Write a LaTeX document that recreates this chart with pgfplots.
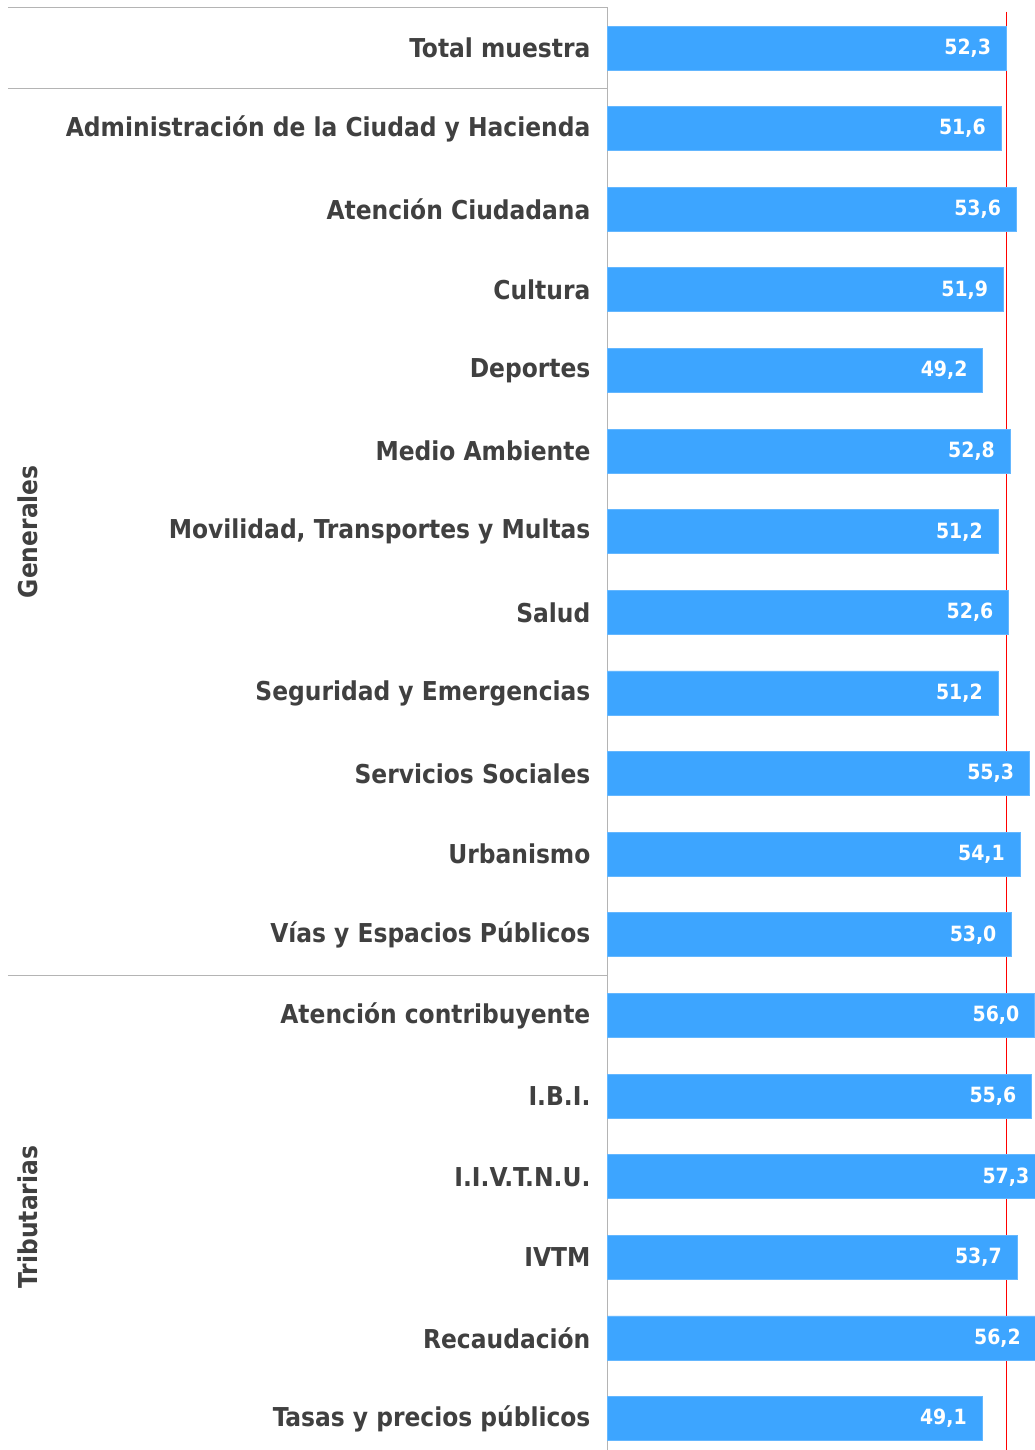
\documentclass[border=0pt]{standalone}
\usepackage{fontspec}
\setmainfont{DejaVu Sans Condensed}
\usepackage{pgfplots}
\usepackage{pgfplotstable}
\pgfplotsset{compat=1.18}
\definecolor{barblue}{HTML}{3DA5FF}
\definecolor{txtgray}{HTML}{404040}
\definecolor{sepgray}{HTML}{B4B4B4}
\pgfplotstableread{
y v lab
0 52.3 52,3
1 51.6 51,6
2 53.6 53,6
3 51.9 51,9
4 49.2 49,2
5 52.8 52,8
6 51.2 51,2
7 52.6 52,6
8 51.2 51,2
9 55.3 55,3
10 54.1 54,1
11 53.0 53,0
12 56.0 56,0
13 55.6 55,6
14 57.3 57,3
15 53.7 53,7
16 56.2 56,2
17 49.1 49,1
}\datatable
\begin{document}
\begin{tikzpicture}
\begin{axis}[
  scale only axis,
  clip=false,
  width=213.5pt, height=721.4pt,
  xmin=0, xmax=56,
  ymin=-0.5, ymax=17.39,
  y dir=reverse,
  axis x line=none,
  axis y line*=left,
  y axis line style={draw=sepgray, line width=0.6pt, -},
  xtick=\empty,
  ytick={0,...,17},
  major tick length=0pt,
  yticklabels={Total muestra,Administración de la Ciudad y Hacienda,Atención Ciudadana,Cultura,Deportes,Medio Ambiente,{Movilidad, Transportes y Multas},Salud,Seguridad y Emergencias,Servicios Sociales,Urbanismo,Vías y Espacios Públicos,Atención contribuyente,I.B.I.,I.I.V.T.N.U.,IVTM,Recaudación,Tasas y precios públicos},
  yticklabel style={font=\fontsize{13}{15}\selectfont\bfseries, text=txtgray, anchor=east, inner sep=0pt, xshift=-8.5pt},
]
\addplot[red, line width=0.6pt] coordinates {(52.3,-0.45) (52.3,17.39)};
\addplot[xbar, bar width=22pt, bar shift=0pt, fill=barblue, draw=barblue!80!white, line width=0.4pt,
  nodes near coords, point meta=explicit symbolic,
  nodes near coords style={anchor=east, inner sep=0pt, xshift=-7.5pt, text=white, font=\fontsize{10.5}{12}\selectfont\bfseries}]
  table[x=v, y=y, meta=lab] {\datatable};
\draw[sepgray, line width=0.6pt] ([xshift=-300pt]axis cs:0,-0.5) -- (axis cs:0,-0.5);
\draw[sepgray, line width=0.6pt] ([xshift=-300pt]axis cs:0,0.5) -- (axis cs:0,0.5);
\draw[sepgray, line width=0.6pt] ([xshift=-300pt]axis cs:0,11.5) -- (axis cs:0,11.5);
\node[rotate=90, font=\fontsize{13}{15}\selectfont\bfseries, text=txtgray] at ([xshift=-290pt]axis cs:0,6) {Generales};
\node[rotate=90, font=\fontsize{13}{15}\selectfont\bfseries, text=txtgray] at ([xshift=-290pt]axis cs:0,14.5) {Tributarias};
\end{axis}
\pgfresetboundingbox
\path ([xshift=-304pt,yshift=3.85pt]current axis.north west) rectangle (current axis.south east);
\end{tikzpicture}
\end{document}
